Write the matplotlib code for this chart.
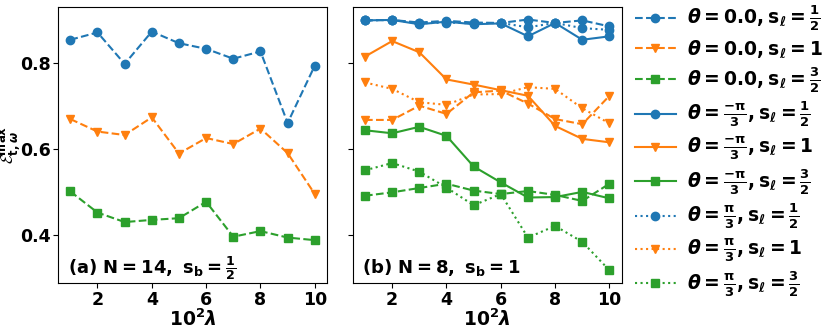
import numpy as np
import matplotlib
matplotlib.use('Agg')
import matplotlib.pyplot as plt

plt.rcParams['font.family'] = 'DejaVu Sans'
plt.rcParams['font.weight'] = 'bold'
plt.rcParams['mathtext.fontset'] = 'custom'
plt.rcParams['mathtext.rm'] = 'DejaVu Sans:bold'
plt.rcParams['mathtext.bf'] = 'DejaVu Sans:bold'
plt.rcParams['mathtext.sf'] = 'DejaVu Sans:bold'
plt.rcParams['mathtext.it'] = 'DejaVu Sans:italic'
plt.rcParams['mathtext.cal'] = 'cmsy10'
plt.rcParams['mathtext.default'] = 'bf'

lam = np.arange(1, 11)

# panel (a): N = 14, s_b = 1/2, theta = 0.0
a_half = [0.853, 0.870, 0.797, 0.872, 0.845, 0.832, 0.809, 0.826, 0.660, 0.793]
a_one = [0.669, 0.640, 0.632, 0.673, 0.589, 0.625, 0.611, 0.647, 0.590, 0.495]
a_three = [0.501, 0.452, 0.430, 0.435, 0.439, 0.477, 0.396, 0.409, 0.394, 0.388]

# panel (b): N = 8, s_b = 1
b_zero_half = [0.898, 0.899, 0.893, 0.897, 0.893, 0.892, 0.900, 0.892, 0.898, 0.884]
b_zero_one = [0.667, 0.667, 0.700, 0.681, 0.731, 0.735, 0.705, 0.669, 0.657, 0.723]
b_zero_three = [0.491, 0.499, 0.509, 0.519, 0.503, 0.495, 0.502, 0.493, 0.479, 0.519]

b_neg_half = [0.898, 0.899, 0.889, 0.895, 0.889, 0.891, 0.861, 0.892, 0.853, 0.861]
b_neg_one = [0.814, 0.850, 0.824, 0.761, 0.749, 0.736, 0.723, 0.653, 0.623, 0.615]
b_neg_three = [0.643, 0.636, 0.651, 0.630, 0.559, 0.522, 0.487, 0.488, 0.500, 0.485]

b_pos_half = [0.898, 0.899, 0.891, 0.893, 0.891, 0.892, 0.882, 0.892, 0.880, 0.876]
b_pos_one = [0.754, 0.739, 0.708, 0.702, 0.726, 0.727, 0.743, 0.739, 0.694, 0.659]
b_pos_three = [0.550, 0.567, 0.547, 0.510, 0.469, 0.495, 0.394, 0.421, 0.384, 0.318]

s_labels = [r'\frac{1}{2}', r'1', r'\frac{3}{2}']
theta_labels = [r'0.0', r'\frac{-\pi}{3}', r'\frac{\pi}{3}']
colors = ['C0', 'C1', 'C2']
markers = ['o', 'v', 's']
styles = ['--', '-', ':']

fig = plt.figure(figsize=(8.3, 3.32), dpi=100)
ax1 = fig.add_axes([0.070, 0.148, 0.324, 0.831])
ax2 = fig.add_axes([0.425, 0.148, 0.324, 0.831], sharey=ax1)

for y, c, m in zip([a_half, a_one, a_three], colors, markers):
    ax1.plot(lam, y, ls='--', color=c, marker=m, ms=6, lw=1.5)

panel_b = [[b_zero_half, b_zero_one, b_zero_three],
           [b_neg_half, b_neg_one, b_neg_three],
           [b_pos_half, b_pos_one, b_pos_three]]
for ti, (series, ls) in enumerate(zip(panel_b, styles)):
    for si, y in enumerate(series):
        lbl = r'$\mathit{\theta} = ' + theta_labels[ti] + r', \mathbf{s}_{\mathit{\ell}} = ' + s_labels[si] + '$'
        ax2.plot(lam, y, ls=ls, color=colors[si], marker=markers[si], ms=6, lw=1.5, label=lbl)

for ax in (ax1, ax2):
    ax.set_xticks([2, 4, 6, 8, 10])
    ax.set_yticks([0.4, 0.6, 0.8])
    ax.tick_params(labelsize=12.5, pad=2)
    ax.set_xlabel(r'$\mathbf{10^2}\mathit{\lambda}$', fontsize=13.5, labelpad=0)
plt.setp(ax2.get_yticklabels(), visible=False)

ax1.set_ylabel(r'$\mathcal{E}^{\mathbf{max}}_{\mathbf{t},\mathit{\omega}}$', fontsize=12)
ax1.yaxis.set_label_coords(-0.18, 0.5)
ax1.yaxis.label.set_va('center')

ax1.text(0.035, 0.035, r'(a) $\mathbf{N = 14,\ s_b = \frac{1}{2}}$', transform=ax1.transAxes, fontsize=13)
ax2.text(0.035, 0.035, r'(b) $\mathbf{N = 8,\ s_b = 1}$', transform=ax2.transAxes, fontsize=13)

ax2.legend(loc='upper left', bbox_to_anchor=(1.0, 1.06), frameon=False, fontsize=13.5,
           handlelength=2.2, labelspacing=0.28, borderaxespad=0.3, handletextpad=0.6)

fig.savefig('out.png', dpi=100)
